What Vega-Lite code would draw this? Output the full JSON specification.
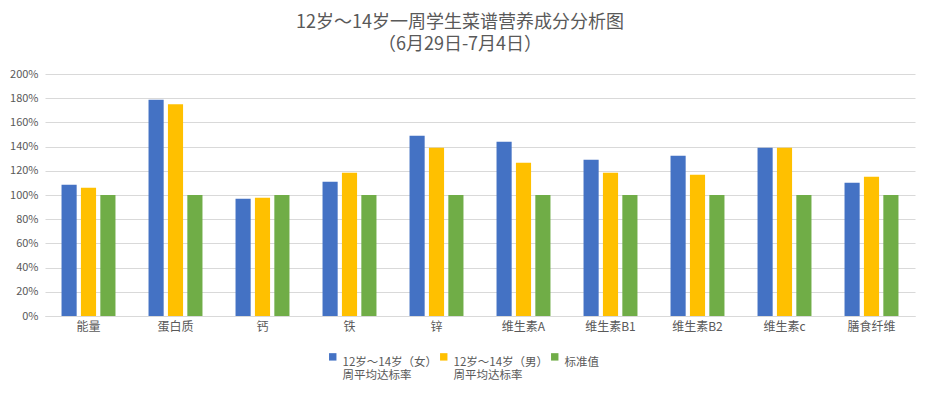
{
  "$schema": "https://vega.github.io/schema/vega-lite/v6.json",
  "width": 870,
  "height": 242,
  "autosize": {"type": "none"},
  "padding": {"left": 45, "top": 74, "right": 15, "bottom": 78},
  "background": "white",
  "title": {
    "text": ["12岁～14岁一周学生菜谱营养成分分析图", "（6月29日-7月4日）"],
    "font": "Noto Sans CJK SC",
    "fontSize": 18,
    "fontWeight": "normal",
    "color": "#595959",
    "lineHeight": 22.5,
    "anchor": "middle",
    "dx": -20,
    "offset": 14
  },
  "data": {
    "values": [
      {"cat": "能量", "s": "12岁～14岁（女）|周平均达标率", "v": 1.084},
      {"cat": "能量", "s": "12岁～14岁（男）|周平均达标率", "v": 1.059},
      {"cat": "能量", "s": "标准值", "v": 1.0},
      {"cat": "蛋白质", "s": "12岁～14岁（女）|周平均达标率", "v": 1.788},
      {"cat": "蛋白质", "s": "12岁～14岁（男）|周平均达标率", "v": 1.749},
      {"cat": "蛋白质", "s": "标准值", "v": 1.0},
      {"cat": "钙", "s": "12岁～14岁（女）|周平均达标率", "v": 0.968},
      {"cat": "钙", "s": "12岁～14岁（男）|周平均达标率", "v": 0.977},
      {"cat": "钙", "s": "标准值", "v": 1.0},
      {"cat": "铁", "s": "12岁～14岁（女）|周平均达标率", "v": 1.109},
      {"cat": "铁", "s": "12岁～14岁（男）|周平均达标率", "v": 1.183},
      {"cat": "铁", "s": "标准值", "v": 1.0},
      {"cat": "锌", "s": "12岁～14岁（女）|周平均达标率", "v": 1.49},
      {"cat": "锌", "s": "12岁～14岁（男）|周平均达标率", "v": 1.39},
      {"cat": "锌", "s": "标准值", "v": 1.0},
      {"cat": "维生素A", "s": "12岁～14岁（女）|周平均达标率", "v": 1.44},
      {"cat": "维生素A", "s": "12岁～14岁（男）|周平均达标率", "v": 1.266},
      {"cat": "维生素A", "s": "标准值", "v": 1.0},
      {"cat": "维生素B1", "s": "12岁～14岁（女）|周平均达标率", "v": 1.291},
      {"cat": "维生素B1", "s": "12岁～14岁（男）|周平均达标率", "v": 1.183},
      {"cat": "维生素B1", "s": "标准值", "v": 1.0},
      {"cat": "维生素B2", "s": "12岁～14岁（女）|周平均达标率", "v": 1.324},
      {"cat": "维生素B2", "s": "12岁～14岁（男）|周平均达标率", "v": 1.167},
      {"cat": "维生素B2", "s": "标准值", "v": 1.0},
      {"cat": "维生素c", "s": "12岁～14岁（女）|周平均达标率", "v": 1.39},
      {"cat": "维生素c", "s": "12岁～14岁（男）|周平均达标率", "v": 1.39},
      {"cat": "维生素c", "s": "标准值", "v": 1.0},
      {"cat": "膳食纤维", "s": "12岁～14岁（女）|周平均达标率", "v": 1.101},
      {"cat": "膳食纤维", "s": "12岁～14岁（男）|周平均达标率", "v": 1.15},
      {"cat": "膳食纤维", "s": "标准值", "v": 1.0}
    ]
  },
  "mark": {"type": "bar"},
  "encoding": {
    "x": {
      "field": "cat",
      "type": "nominal",
      "sort": null,
      "scale": {"paddingInner": 0.38, "paddingOuter": 0.19},
      "axis": {
        "title": null,
        "labelAngle": 0,
        "labelFont": "Noto Sans CJK SC",
        "labelFontSize": 12,
        "labelColor": "#595959",
        "labelPadding": 5,
        "ticks": false,
        "domainColor": "#D9D9D9",
        "grid": false
      }
    },
    "xOffset": {
      "field": "s",
      "type": "nominal",
      "sort": null,
      "scale": {"paddingInner": 0.22, "paddingOuter": 0}
    },
    "y": {
      "field": "v",
      "type": "quantitative",
      "scale": {"domain": [0, 2], "nice": false},
      "axis": {
        "title": null,
        "format": ".0%",
        "values": [0, 0.2, 0.4, 0.6, 0.8, 1.0, 1.2, 1.4, 1.6, 1.8, 2.0],
        "labelFont": "Noto Sans CJK SC",
        "labelFontSize": 11,
        "labelColor": "#595959",
        "labelPadding": 7,
        "ticks": false,
        "domain": false,
        "gridColor": "#D9D9D9",
        "gridWidth": 1
      }
    },
    "color": {
      "field": "s",
      "type": "nominal",
      "sort": null,
      "scale": {"range": ["#4472C4", "#FFC000", "#70AD47"]},
      "legend": {
        "title": null,
        "orient": "none",
        "direction": "horizontal",
        "legendX": 282,
        "legendY": 277,
        "symbolType": "square",
        "symbolSize": 55,
        "symbolStrokeWidth": 0,
        "labelFont": "Noto Sans CJK SC",
        "labelFontSize": 11.5,
        "labelColor": "#595959",
        "labelBaseline": "top",
        "labelOffset": 4,
        "columnPadding": 0,
        "labelLimit": 200,
        "labelExpr": "indexof(datum.label, '|') >= 0 ? split(datum.label, '|') : [datum.label, ' ']"
      }
    }
  },
  "config": {"view": {"stroke": null}}
}
